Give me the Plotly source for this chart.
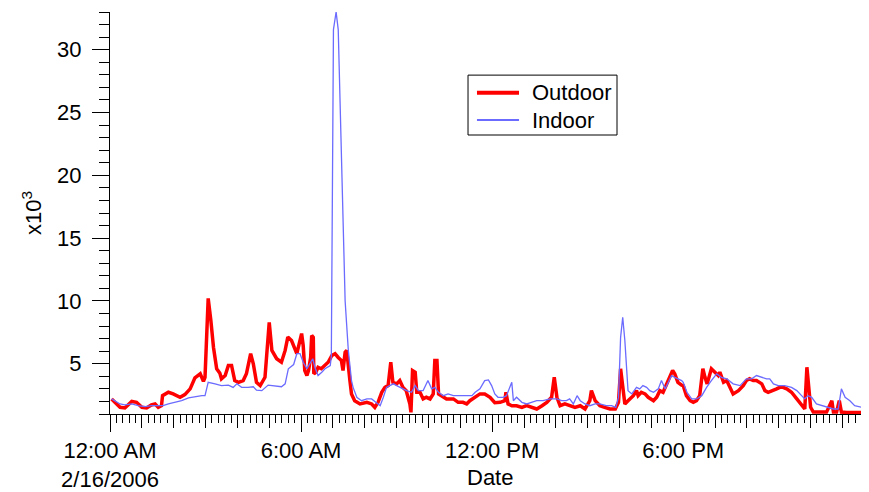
import pandas as pd
import plotly.graph_objects as go

DAY = "2006-02-16"

outdoor_times = ["00:03","00:19","00:28","00:41","00:50","01:00","01:09","01:18","01:25","01:31","01:37","01:39","01:50","01:59","02:12","02:21","02:31","02:40","02:50","02:56","02:59","03:05","03:10","03:15","03:21","03:27","03:30","03:37","03:43","03:49","03:55","04:02","04:11","04:17","04:25","04:30","04:36","04:43","04:52","05:00","05:05","05:14","05:23","05:30","05:35","05:42","05:52","06:01","06:04","06:07","06:11","06:14","06:18","06:20","06:23","06:24","06:28","06:32","06:38","06:45","06:51","06:58","07:04","07:10","07:16","07:19","07:23","07:26","07:29","07:32","07:35","07:41","07:51","08:04","08:13","08:19","08:25","08:32","08:38","08:44","08:49","08:53","09:00","09:06","09:12","09:18","09:25","09:27","09:30","09:35","09:38","09:44","09:50","09:56","10:03","10:09","10:12","10:16","10:19","10:25","10:34","10:47","10:56","11:05","11:12","11:18","11:28","11:37","11:46","11:56","12:05","12:15","12:24","12:26","12:30","12:37","12:46","12:56","13:05","13:14","13:24","13:34","13:43","13:52","13:57","14:02","14:08","14:17","14:26","14:36","14:46","14:55","15:04","15:07","15:14","15:23","15:32","15:42","15:52","15:58","16:02","16:07","16:10","16:16","16:23","16:26","16:32","16:35","16:41","16:48","16:54","17:04","17:10","17:16","17:22","17:29","17:35","17:40","17:44","17:50","17:57","18:00","18:06","18:13","18:19","18:25","18:31","18:37","18:41","18:45","18:53","19:00","19:06","19:09","19:16","19:22","19:28","19:34","19:44","19:53","19:59","20:05","20:12","20:18","20:28","20:34","20:40","20:50","20:56","21:02","21:08","21:15","21:24","21:34","21:43","21:49","21:53","21:56","22:00","22:05","22:17","22:30","22:40","22:43","22:49","22:54","22:58","23:08","23:50"]
outdoor_values = [2.2,1.53,1.48,2.0,1.93,1.53,1.48,1.72,1.8,1.53,1.66,2.46,2.73,2.6,2.33,2.54,3.0,3.88,4.2,3.6,3.92,10.2,8.45,6.3,4.6,4.24,3.8,4.06,4.86,4.86,3.66,3.52,3.66,4.2,5.8,5.0,3.52,3.26,3.92,8.3,6.06,5.4,5.12,6.06,7.12,6.85,5.8,7.4,6.45,4.46,4.06,4.46,5.5,7.25,7.1,4.2,4.33,4.72,4.6,4.86,5.12,5.66,5.8,5.5,5.25,4.46,5.92,6.06,4.46,3.66,2.6,2.06,1.8,1.93,1.8,1.53,1.93,2.73,3.12,3.26,5.12,3.52,3.4,3.66,3.12,2.86,1.8,1.13,4.46,4.33,2.73,2.73,2.2,2.33,2.2,2.6,5.25,5.25,2.6,2.46,2.2,2.2,1.93,1.93,1.8,2.06,2.33,2.6,2.6,2.33,1.9,1.93,2.06,2.73,1.8,1.66,1.66,1.53,1.66,1.53,1.4,1.66,1.93,2.33,3.92,2.33,1.66,1.8,1.66,1.53,1.66,1.4,2.06,2.86,2.06,1.66,1.53,1.4,1.4,1.93,4.6,2.86,1.8,2.06,2.33,2.46,2.86,2.46,2.73,2.6,2.33,2.06,2.33,2.86,2.73,3.4,3.92,4.46,4.2,3.52,3.3,3.26,2.46,2.06,1.93,2.06,2.46,4.6,3.92,3.4,4.6,4.33,4.06,4.33,3.52,3.66,3.12,2.6,2.86,3.26,3.66,3.8,3.66,3.66,3.4,2.86,2.73,2.86,3.0,3.12,3.12,3.0,2.73,2.2,1.66,1.4,4.72,3.4,1.53,1.15,1.15,1.15,2.06,1.15,1.15,2.06,1.15,1.12,1.12]

indoor_times = ["00:03","00:19","00:28","00:41","00:53","01:06","01:18","01:31","01:40","01:50","02:02","02:15","02:28","02:40","02:53","02:59","03:05","03:18","03:30","03:43","03:52","03:59","04:08","04:20","04:30","04:36","04:46","04:58","05:11","05:23","05:30","05:36","05:46","05:52","05:58","06:04","06:11","06:17","06:22","06:26","06:32","06:39","06:45","06:55","06:57","07:01","07:06","07:10","07:16","07:20","07:23","07:29","07:32","07:35","07:38","07:45","07:54","08:04","08:13","08:22","08:29","08:35","08:41","08:47","08:54","09:00","09:06","09:19","09:28","09:35","09:41","09:50","09:59","10:06","10:12","10:19","10:28","10:37","10:47","10:59","11:12","11:22","11:28","11:37","11:46","11:53","11:59","12:05","12:11","12:21","12:27","12:34","12:37","12:40","12:46","12:56","13:05","13:14","13:24","13:36","13:49","14:02","14:11","14:20","14:26","14:33","14:40","14:46","14:55","15:04","15:14","15:23","15:35","15:45","15:53","15:58","16:02","16:06","16:10","16:16","16:23","16:32","16:38","16:44","16:51","16:57","17:04","17:13","17:19","17:26","17:32","17:38","17:44","17:50","17:57","18:00","18:07","18:16","18:25","18:35","18:44","18:53","19:03","19:12","19:22","19:34","19:47","19:59","20:09","20:18","20:28","20:37","20:43","20:50","20:59","21:11","21:24","21:34","21:43","21:49","21:55","22:02","22:11","22:21","22:30","22:43","22:52","22:58","23:05","23:14","23:23","23:36","23:50"]
indoor_values = [2.2,1.8,1.72,1.8,1.66,1.58,1.66,1.66,1.66,1.8,1.93,2.06,2.28,2.38,2.46,2.46,3.52,3.4,3.26,3.3,3.12,3.4,3.12,3.12,3.17,2.9,2.86,3.3,3.26,3.17,3.4,4.6,4.94,5.8,5.8,5.12,4.6,5.0,5.4,4.72,4.06,4.33,4.6,4.86,5.6,31.6,33.0,31.6,20.7,15.4,10.0,6.06,4.8,3.66,3.12,2.33,2.06,2.2,2.2,1.93,1.66,2.33,3.12,3.26,3.4,3.26,3.12,2.86,2.73,3.26,2.86,2.86,3.66,3.0,3.12,2.73,2.46,2.6,2.46,2.46,2.46,2.46,2.73,3.0,3.66,3.71,3.26,2.6,2.33,2.33,2.46,3.12,3.52,2.06,2.33,1.93,1.8,1.93,2.06,2.06,2.2,2.2,2.06,2.06,2.2,1.8,2.46,2.06,1.8,1.66,1.8,1.8,1.66,1.66,1.53,2.33,7.1,8.7,6.85,2.86,2.6,3.12,3.0,3.26,3.12,2.86,2.73,3.0,3.66,3.0,3.52,4.06,3.92,3.8,3.66,3.52,2.73,2.2,2.2,2.46,3.12,3.66,4.2,3.92,3.8,3.4,3.26,3.8,3.8,4.06,3.92,3.8,3.8,3.4,3.26,3.26,3.12,2.86,2.46,2.2,2.46,2.33,1.8,1.66,1.53,1.4,1.4,3.0,2.33,2.06,1.66,1.53,1.4]

series_names = ["Outdoor", "Indoor"]
series_colors = ["#ff0000", "#6b6bff"]
series_widths = [3.5, 1.3]

x_tick_times = ["00:00", "06:00", "12:00", "18:00"]
x_tick_text = ["12:00 AM<br>2/16/2006", "6:00 AM", "12:00 PM", "6:00 PM"]
y_tick_vals = [5, 10, 15, 20, 25, 30]
x_range = ["00:00", "23:50"]
y_range = [1, 33]

def to_dt(ts):
    return pd.to_datetime([f"{DAY} {t}" for t in ts])

FONT = "Liberation Sans, Arial, Helvetica, sans-serif"

fig = go.Figure()
fig.add_trace(go.Scatter(x=to_dt(outdoor_times), y=outdoor_values, mode="lines",
                         name=series_names[0],
                         line=dict(color=series_colors[0], width=series_widths[0])))
fig.add_trace(go.Scatter(x=to_dt(indoor_times), y=indoor_values, mode="lines",
                         name=series_names[1],
                         line=dict(color=series_colors[1], width=series_widths[1]),
                         xaxis="x2"))

# manual legend (box, sample lines, labels) in paper coordinates
leg_x0, leg_x1, leg_y0, leg_y1 = 0.4717, 0.668, 0.694, 0.843
line_x0, line_x1, text_x = 0.4835, 0.5389, 0.5534
row_y = [0.7993, 0.7313]
shapes = [dict(type="rect", xref="paper", yref="paper", x0=leg_x0, x1=leg_x1,
               y0=leg_y0, y1=leg_y1, line=dict(color="black", width=1),
               fillcolor="white", layer="above")]
annotations = []
for name, col, w, yy in zip(series_names, series_colors, series_widths, row_y):
    shapes.append(dict(type="line", xref="paper", yref="paper", x0=line_x0, x1=line_x1,
                       y0=yy, y1=yy, line=dict(color=col, width=w + 0.5), layer="above"))
    annotations.append(dict(text=name, xref="paper", yref="paper", x=text_x, y=yy,
                            xanchor="left", yanchor="middle", showarrow=False,
                            font=dict(size=22)))

annotations += [
    dict(text="x10<sup>3</sup>", xref="paper", yref="paper",
         x=-0.1028, y=0.5, textangle=-90, showarrow=False,
         xanchor="center", yanchor="middle", font=dict(size=22)),
    dict(text="Date", xref="paper", yref="paper",
         x=0.5, y=-0.159, showarrow=False,
         xanchor="center", yanchor="middle", font=dict(size=22)),
]

xr = list(to_dt(x_range))
fig.update_layout(
    width=861, height=484,
    margin=dict(l=102, r=0, t=4, b=78, autoexpand=False),
    paper_bgcolor="white", plot_bgcolor="white",
    font=dict(family=FONT, size=22, color="black"),
    showlegend=False,
    shapes=shapes,
    annotations=annotations,
    xaxis=dict(type="date", range=xr, tickmode="array",
               tickvals=list(to_dt(x_tick_times)), ticktext=x_tick_text,
               ticks="outside", ticklen=17, tickwidth=1, tickcolor="black",
               showline=True, linecolor="black", linewidth=1,
               showgrid=False, zeroline=False, automargin=False,
               tickfont=dict(size=22),
               minor=dict(tickmode="linear", tick0=DAY, dtick=12 * 60 * 1000,
                          ticks="outside", ticklen=8, tickcolor="black",
                          tickwidth=1, showgrid=False)),
    xaxis2=dict(type="date", range=xr, overlaying="x", anchor="y", side="bottom",
                tickmode="linear", tick0=DAY, dtick=3600 * 1000,
                ticks="outside", ticklen=13, tickwidth=1, tickcolor="black",
                showticklabels=False, showline=False, showgrid=False, zeroline=False,
                automargin=False),
    yaxis=dict(range=y_range, tickmode="array", tickvals=y_tick_vals,
               ticks="outside", ticklen=17, tickwidth=1, tickcolor="black",
               showline=True, linecolor="black", linewidth=1,
               showgrid=False, zeroline=False, tickfont=dict(size=22),
               ticklabelstandoff=6, automargin=False,
               minor=dict(tickmode="linear", tick0=0, dtick=1, ticks="outside",
                          ticklen=10, tickcolor="black", tickwidth=1, showgrid=False)),
)

fig.write_html("out.html")
